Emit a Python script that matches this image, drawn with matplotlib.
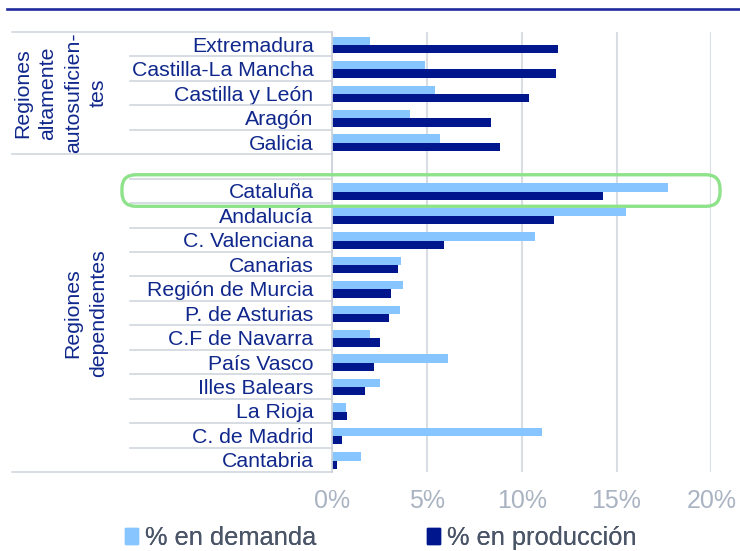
import numpy as np
import matplotlib
matplotlib.use("Agg")
import matplotlib.pyplot as plt
from matplotlib.patches import Patch, FancyBboxPatch
from matplotlib.transforms import blended_transform_factory, IdentityTransform
from matplotlib.lines import Line2D

# ---- data ----
regions = ["Extremadura", "Castilla-La Mancha", "Castilla y León", "Aragón", "Galicia", "",
           "Cataluña", "Andalucía", "C. Valenciana", "Canarias", "Región de Murcia",
           "P. de Asturias", "C.F de Navarra", "País Vasco", "Illes Balears", "La Rioja",
           "C. de Madrid", "Cantabria"]
demanda = [2.0, 4.9, 5.4, 4.1, 5.7, None,
           17.7, 15.5, 10.7, 3.65, 3.75, 3.55, 2.0, 6.1, 2.5, 0.7, 11.05, 1.5]
produccion = [11.9, 11.8, 10.4, 8.4, 8.85, None,
              14.3, 11.7, 5.9, 3.45, 3.1, 3.0, 2.5, 2.2, 1.75, 0.8, 0.5, 0.25]
groups = ["Regiones\naltamente\nautosuficien-\ntes", "Regiones\ndependientes"]
group_rows = [(0, 4), (5, 17)]
xticks = [0, 5, 10, 15, 20]
xticklabels = ["0%", "5%", "10%", "15%", "20%"]
series_names = ["% en demanda", "% en producción"]
highlight = "Cataluña"

# ---- style ----
C_LIGHT = "#86C5FF"
C_DARK = "#00168C"
C_TEXT = "#10288C"
C_GRID = "#D9DEE5"
C_SEP = "#CDD3DC"
FS = 15.3
plt.rcParams["font.family"] = ["Liberation Sans", "DejaVu Sans"]

W, H = 740, 551
fig = plt.figure(figsize=(W / 100, H / 100), dpi=100)
ax = fig.add_axes([332.3 / W, 1 - 472 / H, (711.3 - 332.3) / W, (472 - 32) / H])

n = len(regions)
y = np.arange(n)
d = np.array([np.nan if v is None else v for v in demanda], dtype=float)
p = np.array([np.nan if v is None else v for v in produccion], dtype=float)
bh = 0.34
ax.barh(y - bh / 2 + 0.03, d, height=bh, color=C_LIGHT, zorder=3)
ax.barh(y + bh / 2 + 0.03, p, height=bh, color=C_DARK, zorder=3)

ax.set_ylim(n - 0.5, -0.5)
ax.set_xlim(0, 20)
ax.set_xticks(xticks)
ax.set_xticklabels(xticklabels)
ax.set_yticks(y)
ax.set_yticklabels(regions)
ax.tick_params(axis="y", length=0, pad=13.5, labelsize=FS, labelcolor=C_TEXT)
ax.tick_params(axis="x", length=0, pad=12, labelsize=18, labelcolor="#A9B3C2")
ax.xaxis.grid(True, color=C_GRID, lw=1.5, zorder=0)
ax.set_axisbelow(True)
for s in ["top", "right", "bottom"]:
    ax.spines[s].set_visible(False)
ax.spines["left"].set_color(C_SEP)
ax.spines["left"].set_linewidth(1.3)
ax.spines["left"].set_zorder(4)

# category separators (multi-level axis)
tr = blended_transform_factory(ax.transAxes, ax.transData)
x_short = (130 - 332.3) / 379
x_long = (12 - 332.3) / 379
bounds = [g[0] - 0.5 for g in group_rows] + [group_rows[-1][1] + 0.5]
for b in np.arange(-0.5, n, 1.0):
    x0 = x_long if any(abs(b - bb) < 1e-6 for bb in bounds) else x_short
    ax.add_line(Line2D([x0, 0], [b, b], transform=tr, color=C_SEP, lw=1.1, clip_on=False))

# group labels
for name, (r0, r1) in zip(groups, group_rows):
    ax.text((108 - 332.3) / 379, (r0 + r1) / 2, name, transform=tr, rotation=90,
            ha="right", va="center", multialignment="center", fontsize=FS,
            color=C_TEXT, linespacing=1.42)

# highlight box around Cataluña
fig.canvas.draw()
hi = regions.index(highlight)
x0p, y0p = ax.transAxes.transform((0, 0))
axw = ax.transAxes.transform((1, 0))[0] - x0p
left = x0p + (-0.555) * axw
right = x0p + 1.023 * axw
ytop = ax.transData.transform((0, hi - 0.66))[1]
ybot = ax.transData.transform((0, hi + 0.63))[1]
box = FancyBboxPatch((left, ybot), right - left, ytop - ybot,
                     boxstyle="round,pad=0,rounding_size=14", transform=IdentityTransform(),
                     fill=False, ec="#8DE28A", lw=2.4, zorder=10)
fig.patches.append(box)

# top rule
fig.add_artist(Line2D([7 / W, 1.0], [1 - 8.5 / H, 1 - 8.5 / H], color="#1F2A9C", lw=1.9))

# legend (two entries placed like the original)
for name, col, xpix in zip(series_names, [C_LIGHT, C_DARK], [125, 427]):
    leg = fig.legend([Patch(color=col)], [name], loc="center left",
                     bbox_to_anchor=(xpix / W, 1 - 538 / H), frameon=False,
                     fontsize=18.3, handlelength=0.5, handleheight=0.6, handletextpad=0.3,
                     borderpad=0, borderaxespad=0)
    for t in leg.get_texts():
        t.set_color("#4A5568")
    fig.add_artist(leg)

fig.savefig("out.png", dpi=100)
